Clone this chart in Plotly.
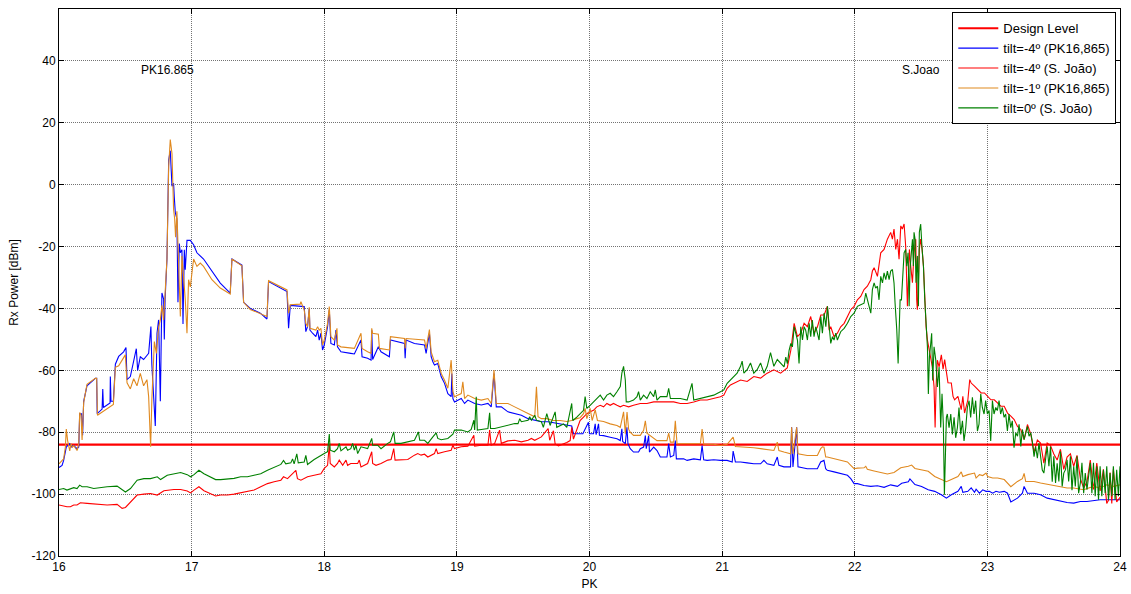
import plotly.graph_objects as go

# ---------------------------------------------------------------------------
# Drive-test measurements: received power (dBm) along the track (PK, km)
# ---------------------------------------------------------------------------
design_level = -84.0
pk_span = [16.0, 24.0]

# tilt=-4º, antenna at PK16,865
tilt_m4_pk = [
    (16.0, -91.4), (16.023, -90.7), (16.035, -89.1), (16.055, -84.8), (16.065, -84.3),
    (16.081, -83.7), (16.091, -84.8), (16.101, -84.3), (16.111, -84.3), (16.123, -84.8),
    (16.136, -85.3), (16.149, -84.8), (16.156, -74.0), (16.17, -74.0), (16.178, -81.0),
    (16.186, -70.0), (16.211, -65.0), (16.274, -62.6), (16.284, -62.6), (16.288, -74.0),
    (16.325, -72.5), (16.33, -66.0), (16.335, -72.0), (16.385, -70.5), (16.387, -62.0),
    (16.392, -70.0), (16.41, -70.0), (16.425, -58.0), (16.45, -55.5), (16.487, -54.0),
    (16.505, -52.6), (16.513, -63.0), (16.538, -62.0), (16.583, -53.0), (16.593, -60.0),
    (16.613, -55.6), (16.638, -56.5), (16.676, -54.5), (16.693, -45.8), (16.70, -58.0),
    (16.726, -78.0), (16.739, -48.0), (16.751, -43.7), (16.764, -70.0), (16.776, -35.0),
    (16.789, -37.0), (16.794, -50.0), (16.80, -37.0), (16.814, -24.0), (16.827, 8.0),
    (16.839, 11.0), (16.852, -0.5), (16.864, 0.5), (16.869, -3.8), (16.877, -9.0),
    (16.889, -11.0), (16.897, -38.0), (16.907, -19.0), (16.915, -22.0), (16.927, -21.0),
    (16.935, -45.0), (16.945, -21.0), (16.952, -27.5), (16.965, -18.0), (16.99, -18.0),
    (17.015, -19.4), (17.04, -22.0), (17.09, -24.0), (17.153, -28.0), (17.216, -31.8),
    (17.291, -35.0), (17.304, -24.0), (17.379, -26.0), (17.392, -38.0), (17.442, -40.0),
    (17.518, -41.5), (17.568, -43.4), (17.58, -31.3), (17.719, -34.5), (17.731, -46.4),
    (17.744, -39.0), (17.819, -39.2), (17.849, -39.4), (17.861, -47.5), (17.874, -45.9),
    (17.887, -40.0), (17.892, -47.0), (17.912, -48.0), (17.937, -49.1), (17.95, -47.0),
    (17.962, -50.2), (17.975, -48.0), (17.987, -53.4), (18.0, -51.8), (18.025, -45.9),
    (18.038, -40.5), (18.05, -51.3), (18.076, -51.8), (18.088, -47.0), (18.1, -52.4),
    (18.113, -53.4), (18.126, -54.0), (18.2, -54.5), (18.227, -54.7), (18.277, -50.2),
    (18.285, -55.6), (18.327, -56.1), (18.353, -56.7), (18.358, -47.0), (18.365, -56.5),
    (18.408, -52.4), (18.428, -54.0), (18.491, -55.6), (18.499, -50.2), (18.605, -51.3),
    (18.61, -56.1), (18.617, -50.2), (18.68, -51.3), (18.756, -51.8), (18.768, -54.5),
    (18.793, -48.0), (18.806, -55.6), (18.819, -57.2), (18.831, -58.3), (18.856, -57.8),
    (18.869, -59.9), (18.882, -62.1), (18.907, -64.2), (18.932, -67.5), (18.957, -68.5),
    (18.962, -61.0), (18.97, -69.1), (18.982, -70.2), (19.033, -69.1), (19.058, -70.7),
    (19.083, -69.6), (19.134, -70.7), (19.184, -71.2), (19.234, -70.7), (19.259, -71.8),
    (19.28, -61.0), (19.297, -71.8), (19.335, -71.8), (19.385, -73.4), (19.436, -73.9),
    (19.486, -74.5), (19.537, -75.6), (19.587, -76.1), (19.637, -76.6), (19.688, -76.6),
    (19.738, -77.0), (19.829, -77.5), (19.866, -78.0), (19.879, -80.5), (19.95, -80.5),
    (19.992, -76.8), (20.0, -80.5), (20.03, -80.5), (20.043, -77.3), (20.05, -80.8),
    (20.068, -77.3), (20.075, -81.0), (20.106, -81.1), (20.156, -81.6), (20.207, -82.1),
    (20.232, -82.7), (20.244, -78.9), (20.25, -83.0), (20.27, -83.7), (20.282, -78.4),
    (20.29, -83.7), (20.307, -85.3), (20.332, -86.4), (20.37, -86.4), (20.383, -85.3),
    (20.408, -84.8), (20.421, -81.1), (20.428, -85.3), (20.446, -81.1), (20.452, -86.4),
    (20.484, -84.8), (20.509, -85.9), (20.534, -88.0), (20.584, -88.0), (20.597, -83.7),
    (20.61, -88.0), (20.635, -87.5), (20.647, -82.7), (20.655, -88.6), (20.71, -88.6),
    (20.736, -89.1), (20.786, -88.6), (20.836, -88.9), (20.849, -84.3), (20.861, -88.9),
    (20.887, -89.1), (20.937, -88.9), (20.987, -89.1), (21.038, -89.1), (21.076, -89.6),
    (21.083, -86.1), (21.1, -89.6), (21.139, -89.6), (21.189, -89.9), (21.239, -90.2),
    (21.29, -90.2), (21.315, -89.1), (21.34, -90.2), (21.39, -90.7), (21.416, -88.0),
    (21.428, -90.7), (21.466, -91.2), (21.516, -91.2), (21.524, -78.4), (21.534, -91.2),
    (21.562, -78.4), (21.572, -91.2), (21.642, -91.8), (21.718, -91.8), (21.743, -89.6),
    (21.768, -89.1), (21.781, -91.8), (21.793, -92.3), (21.844, -92.8), (21.894, -93.4),
    (21.945, -93.9), (21.97, -95.0), (21.995, -96.6), (22.02, -96.6), (22.07, -97.2),
    (22.121, -97.5), (22.171, -97.3), (22.221, -97.8), (22.271, -97.0), (22.322, -97.5),
    (22.354, -96.5), (22.404, -96.0), (22.416, -95.1), (22.454, -96.9), (22.504, -97.5),
    (22.554, -98.6), (22.603, -99.1), (22.653, -100.2), (22.691, -101.3), (22.728, -100.2),
    (22.778, -99.1), (22.803, -97.5), (22.815, -99.4), (22.853, -99.1), (22.878, -98.0),
    (22.903, -99.4), (22.915, -98.4), (22.94, -99.7), (22.965, -98.6), (22.99, -99.1),
    (23.015, -99.1), (23.04, -99.7), (23.065, -99.1), (23.09, -99.4), (23.127, -99.1),
    (23.152, -99.7), (23.177, -102.5), (23.227, -101.3), (23.264, -99.7), (23.277, -97.5),
    (23.302, -99.7), (23.352, -99.7), (23.401, -100.2), (23.451, -101.3), (23.501, -101.8),
    (23.551, -102.4), (23.601, -102.7), (23.651, -102.9), (23.701, -102.4), (23.751, -102.4),
    (23.8, -102.0), (23.85, -101.8), (23.9, -101.8), (23.95, -101.8), (24.0, -101.8),
]

# tilt=-4º, antenna at S. João
tilt_m4_sj = [
    (16.0, -103.5), (16.035, -103.9), (16.06, -104.1), (16.086, -104.1), (16.111, -103.5),
    (16.136, -103.5), (16.161, -102.8), (16.212, -103.0), (16.262, -103.2), (16.312, -103.3),
    (16.363, -103.5), (16.438, -103.3), (16.476, -104.6), (16.501, -104.3), (16.539, -102.5),
    (16.589, -100.3), (16.64, -100.0), (16.69, -99.8), (16.741, -100.3), (16.791, -98.9),
    (16.866, -98.5), (16.917, -98.5), (16.967, -99.0), (16.992, -99.6), (17.018, -98.7),
    (17.055, -97.6), (17.093, -98.9), (17.144, -100.0), (17.181, -100.6), (17.219, -100.3),
    (17.27, -100.3), (17.32, -100.0), (17.37, -99.6), (17.421, -99.3), (17.471, -98.7),
    (17.521, -97.6), (17.572, -96.6), (17.622, -96.0), (17.673, -95.5), (17.693, -94.4),
    (17.723, -95.0), (17.786, -92.3), (17.798, -95.0), (17.824, -95.5), (17.874, -94.4),
    (17.924, -93.9), (17.975, -93.4), (18.0, -91.7), (18.025, -90.7), (18.038, -84.0),
    (18.045, -90.1), (18.076, -91.2), (18.1, -90.1), (18.113, -89.0), (18.139, -90.7),
    (18.164, -89.0), (18.176, -90.7), (18.2, -90.1), (18.252, -90.1), (18.264, -89.0),
    (18.277, -91.2), (18.327, -90.1), (18.358, -86.3), (18.365, -90.1), (18.39, -90.7),
    (18.428, -90.1), (18.479, -89.0), (18.504, -88.8), (18.524, -85.3), (18.534, -89.0),
    (18.579, -89.0), (18.63, -88.8), (18.68, -87.4), (18.705, -86.9), (18.73, -87.4),
    (18.756, -87.1), (18.781, -88.0), (18.831, -86.9), (18.844, -85.3), (18.856, -86.9),
    (18.907, -86.3), (18.957, -85.8), (18.97, -84.2), (18.982, -85.3), (19.033, -84.7),
    (19.083, -84.5), (19.128, -81.0), (19.134, -84.5), (19.184, -84.2), (19.234, -84.2),
    (19.247, -79.3), (19.259, -84.2), (19.285, -83.6), (19.322, -79.3), (19.335, -83.6),
    (19.385, -82.8), (19.436, -82.6), (19.486, -83.1), (19.537, -82.6), (19.562, -82.0),
    (19.587, -82.6), (19.637, -81.5), (19.688, -78.8), (19.7, -82.6), (19.728, -79.5),
    (19.741, -83.8), (19.766, -84.4), (19.804, -83.8), (19.829, -83.3), (19.854, -82.7),
    (19.866, -78.4), (19.879, -82.2), (19.904, -79.5), (19.929, -76.2), (19.955, -75.1),
    (19.98, -74.0), (20.005, -73.4), (20.03, -72.9), (20.055, -71.8), (20.081, -71.3),
    (20.106, -71.8), (20.131, -70.7), (20.156, -71.3), (20.181, -70.7), (20.207, -71.3),
    (20.232, -71.8), (20.257, -71.3), (20.295, -71.8), (20.332, -71.3), (20.383, -70.7),
    (20.433, -70.7), (20.484, -70.2), (20.534, -70.2), (20.584, -70.2), (20.635, -70.2),
    (20.685, -70.7), (20.736, -70.7), (20.786, -70.2), (20.836, -69.6), (20.887, -69.6),
    (20.937, -69.1), (20.987, -68.5), (21.013, -68.0), (21.038, -65.8), (21.063, -64.7),
    (21.088, -64.2), (21.139, -63.1), (21.189, -63.6), (21.239, -62.0), (21.29, -62.5),
    (21.34, -60.9), (21.39, -59.8), (21.441, -60.9), (21.491, -59.2), (21.518, -53.5),
    (21.543, -44.8), (21.568, -49.1), (21.593, -48.0), (21.618, -44.8), (21.643, -45.9),
    (21.668, -42.6), (21.693, -48.0), (21.719, -45.9), (21.744, -42.1), (21.769, -42.1),
    (21.794, -39.3), (21.807, -47.0), (21.819, -45.9), (21.844, -49.1), (21.869, -48.0),
    (21.894, -45.9), (21.92, -44.8), (21.945, -42.6), (21.97, -40.4), (21.995, -39.3),
    (22.02, -37.2), (22.045, -36.1), (22.07, -33.9), (22.095, -32.8), (22.121, -30.7),
    (22.133, -27.9), (22.146, -26.8), (22.171, -29.6), (22.196, -22.0), (22.221, -20.9),
    (22.246, -17.6), (22.271, -15.4), (22.284, -17.6), (22.296, -14.3), (22.309, -20.9),
    (22.322, -17.6), (22.334, -24.1), (22.347, -13.3), (22.359, -14.3), (22.372, -12.7),
    (22.384, -19.8), (22.392, -31.7), (22.397, -39.3), (22.405, -29.6), (22.412, -20.9),
    (22.422, -26.3), (22.435, -31.7), (22.447, -22.0), (22.46, -17.6), (22.467, -37.2),
    (22.472, -40.4), (22.48, -31.7), (22.487, -20.9), (22.497, -17.6), (22.508, -20.9),
    (22.518, -26.3), (22.528, -37.2), (22.538, -45.9), (22.548, -50.2), (22.56, -53.5),
    (22.573, -56.7), (22.585, -58.9), (22.598, -65.4), (22.606, -78.5), (22.613, -65.4),
    (22.623, -56.7), (22.636, -58.9), (22.648, -56.7), (22.653, -55.0), (22.666, -59.6),
    (22.678, -56.5), (22.691, -60.5), (22.703, -64.0), (22.728, -64.1), (22.741, -68.4),
    (22.753, -69.5), (22.778, -68.4), (22.803, -72.7), (22.815, -68.4), (22.828, -73.8),
    (22.853, -69.5), (22.867, -63.0), (22.878, -64.1), (22.903, -65.1), (22.928, -66.2),
    (22.953, -67.3), (22.978, -67.3), (23.002, -68.4), (23.027, -69.5), (23.052, -69.5),
    (23.077, -70.5), (23.102, -71.6), (23.127, -71.6), (23.152, -73.8), (23.177, -74.8),
    (23.202, -75.9), (23.227, -78.1), (23.252, -79.1), (23.277, -82.4), (23.302, -77.5),
    (23.327, -80.5), (23.352, -86.5), (23.377, -82.5), (23.401, -83.5), (23.426, -90.0),
    (23.451, -83.5), (23.476, -84.3), (23.501, -87.0), (23.526, -89.0), (23.551, -85.5),
    (23.576, -92.0), (23.601, -88.0), (23.626, -87.0), (23.651, -91.0), (23.676, -87.5),
    (23.701, -95.0), (23.726, -98.0), (23.751, -96.0), (23.776, -89.0), (23.8, -98.5),
    (23.825, -90.0), (23.85, -99.0), (23.875, -92.0), (23.9, -103.0), (23.913, -102.0),
    (23.925, -93.0), (23.938, -103.0), (23.95, -92.0), (23.975, -102.5), (24.0, -101.0),
]

# tilt=-1º, antenna at PK16,865
tilt_m1_pk = [
    (16.0, -90.2), (16.023, -89.1), (16.035, -88.6), (16.048, -84.8), (16.055, -79.0),
    (16.065, -82.7), (16.081, -86.0), (16.091, -83.7), (16.101, -84.8), (16.111, -84.3),
    (16.123, -85.3), (16.136, -85.9), (16.149, -83.7), (16.156, -73.6), (16.166, -74.5),
    (16.174, -82.5), (16.186, -70.4), (16.211, -64.5), (16.274, -62.6), (16.284, -62.6),
    (16.29, -74.5), (16.41, -71.0), (16.425, -59.0), (16.45, -58.5), (16.5, -55.0),
    (16.513, -64.0), (16.538, -66.0), (16.563, -62.7), (16.588, -65.0), (16.613, -61.0),
    (16.638, -65.0), (16.663, -63.0), (16.676, -68.5), (16.691, -84.7), (16.70, -69.5),
    (16.719, -50.7), (16.734, -54.5), (16.751, -46.0), (16.764, -43.7), (16.776, -39.0),
    (16.789, -43.7), (16.80, -36.0), (16.814, -24.0), (16.827, 6.0), (16.839, 14.6),
    (16.852, 10.0), (16.864, -8.0), (16.872, -11.0), (16.879, -17.0), (16.889, -8.6),
    (16.902, -24.0), (16.915, -42.6), (16.927, -23.0), (16.94, -30.0), (16.952, -37.0),
    (16.965, -48.0), (16.977, -30.7), (16.99, -33.0), (17.015, -24.0), (17.04, -26.4),
    (17.065, -25.3), (17.09, -26.4), (17.153, -30.7), (17.216, -33.4), (17.291, -35.3),
    (17.304, -24.0), (17.379, -26.2), (17.392, -38.0), (17.442, -40.3), (17.568, -42.6),
    (17.58, -31.0), (17.719, -34.0), (17.731, -41.5), (17.744, -38.8), (17.819, -38.6),
    (17.824, -37.8), (17.849, -40.5), (17.861, -44.8), (17.874, -45.9), (17.887, -39.6),
    (17.892, -46.4), (17.937, -47.0), (17.95, -45.9), (17.962, -47.0), (17.975, -46.4),
    (17.987, -51.8), (18.0, -50.2), (18.025, -44.8), (18.038, -39.4), (18.05, -49.1),
    (18.076, -50.2), (18.096, -46.4), (18.1, -51.8), (18.126, -52.4), (18.2, -52.6),
    (18.227, -52.9), (18.277, -48.0), (18.285, -52.9), (18.327, -54.0), (18.353, -54.5),
    (18.358, -46.4), (18.365, -48.0), (18.408, -48.3), (18.416, -52.9), (18.491, -53.4),
    (18.499, -49.1), (18.605, -49.7), (18.61, -52.9), (18.617, -49.7), (18.756, -50.2),
    (18.768, -52.9), (18.793, -46.8), (18.806, -54.0), (18.819, -56.1), (18.831, -57.2),
    (18.856, -56.7), (18.869, -58.8), (18.882, -61.0), (18.907, -63.2), (18.932, -65.8),
    (18.957, -56.7), (18.97, -66.9), (18.982, -68.5), (19.033, -67.5), (19.045, -63.7),
    (19.058, -69.1), (19.083, -68.0), (19.134, -69.1), (19.184, -69.6), (19.234, -69.1),
    (19.259, -70.7), (19.28, -59.9), (19.297, -70.7), (19.335, -70.7), (19.385, -70.7),
    (19.436, -71.8), (19.486, -72.9), (19.537, -73.9), (19.587, -75.0), (19.6, -65.3),
    (19.612, -75.0), (19.637, -75.6), (19.678, -75.6), (19.728, -76.2), (19.778, -76.2),
    (19.829, -76.5), (19.866, -76.2), (19.904, -75.6), (19.929, -75.3), (19.955, -74.0),
    (19.967, -72.3), (19.98, -75.6), (20.005, -72.3), (20.02, -76.2), (20.043, -72.8),
    (20.06, -76.2), (20.106, -76.5), (20.156, -77.3), (20.207, -77.8), (20.232, -78.4),
    (20.244, -76.3), (20.257, -73.4), (20.27, -80.5), (20.283, -73.5), (20.295, -79.0),
    (20.307, -80.0), (20.332, -81.0), (20.383, -81.0), (20.408, -79.4), (20.421, -76.3),
    (20.433, -80.3), (20.458, -81.0), (20.509, -82.7), (20.534, -82.7), (20.584, -82.7),
    (20.597, -80.3), (20.61, -83.2), (20.635, -83.2), (20.647, -76.3), (20.66, -83.7),
    (20.71, -83.7), (20.786, -83.7), (20.836, -83.7), (20.849, -79.0), (20.861, -83.9),
    (20.937, -83.9), (20.987, -84.3), (21.038, -83.9), (21.083, -81.6), (21.1, -84.6),
    (21.189, -84.8), (21.239, -85.0), (21.29, -85.3), (21.34, -85.6), (21.39, -85.9),
    (21.416, -83.2), (21.428, -85.9), (21.466, -86.4), (21.516, -87.0), (21.524, -78.4),
    (21.534, -87.0), (21.562, -78.4), (21.572, -87.0), (21.642, -87.5), (21.718, -87.5),
    (21.743, -85.3), (21.756, -84.7), (21.768, -84.8), (21.781, -88.0), (21.793, -88.0),
    (21.844, -88.6), (21.894, -89.1), (21.945, -89.6), (21.97, -90.7), (21.995, -91.8),
    (22.02, -91.6), (22.07, -91.5), (22.083, -91.0), (22.095, -92.0), (22.146, -92.5),
    (22.196, -93.0), (22.246, -93.5), (22.296, -93.0), (22.347, -91.5), (22.404, -91.0),
    (22.429, -90.6), (22.454, -91.7), (22.504, -92.1), (22.554, -92.6), (22.603, -94.3),
    (22.653, -95.3), (22.691, -96.0), (22.728, -95.3), (22.778, -94.3), (22.803, -92.8),
    (22.815, -94.3), (22.853, -93.7), (22.903, -93.2), (22.915, -94.8), (22.94, -93.7),
    (22.965, -94.0), (22.99, -93.2), (23.002, -94.3), (23.04, -94.8), (23.077, -94.8),
    (23.127, -95.3), (23.177, -97.6), (23.227, -95.9), (23.264, -95.0), (23.277, -93.3),
    (23.289, -95.9), (23.352, -95.9), (23.401, -96.4), (23.476, -97.0), (23.551, -97.5),
    (23.601, -98.0), (23.651, -98.0), (23.726, -98.6), (23.8, -97.5), (23.85, -98.0),
    (23.9, -97.0), (23.95, -97.5), (24.0, -97.0),
]

# tilt=0º, antenna at S. João
tilt_0_sj = [
    (16.0, -98.5), (16.035, -98.2), (16.06, -98.7), (16.086, -98.2), (16.111, -97.9),
    (16.136, -98.2), (16.156, -97.1), (16.174, -97.6), (16.212, -97.6), (16.262, -98.2),
    (16.312, -97.9), (16.363, -97.6), (16.438, -97.4), (16.463, -98.2), (16.501, -99.3),
    (16.539, -98.2), (16.589, -95.5), (16.64, -95.0), (16.69, -95.0), (16.741, -94.4),
    (16.766, -95.3), (16.816, -93.9), (16.866, -93.4), (16.917, -93.0), (16.967, -93.7),
    (16.992, -94.4), (17.018, -93.7), (17.055, -92.3), (17.093, -93.4), (17.144, -94.4),
    (17.181, -95.3), (17.219, -95.3), (17.27, -95.1), (17.32, -94.9), (17.37, -94.4),
    (17.421, -94.4), (17.471, -93.9), (17.521, -93.4), (17.572, -92.3), (17.622, -91.4),
    (17.673, -90.4), (17.693, -89.1), (17.71, -90.2), (17.748, -89.9), (17.761, -88.6),
    (17.773, -90.2), (17.793, -87.0), (17.804, -89.9), (17.849, -89.6), (17.861, -87.5),
    (17.874, -90.4), (17.924, -88.8), (17.975, -87.7), (18.0, -86.9), (18.025, -86.3),
    (18.038, -80.6), (18.045, -85.8), (18.076, -86.3), (18.1, -85.3), (18.113, -83.6),
    (18.126, -86.0), (18.151, -85.3), (18.164, -84.7), (18.176, -85.8), (18.2, -85.3),
    (18.214, -83.6), (18.227, -85.8), (18.239, -84.2), (18.252, -86.9), (18.277, -84.7),
    (18.327, -85.3), (18.358, -82.0), (18.365, -84.2), (18.403, -84.2), (18.428, -85.3),
    (18.479, -83.6), (18.499, -83.1), (18.524, -79.9), (18.534, -83.6), (18.579, -83.6),
    (18.63, -83.1), (18.68, -82.6), (18.71, -79.9), (18.72, -82.6), (18.756, -82.6),
    (18.781, -83.6), (18.819, -81.5), (18.844, -80.2), (18.856, -82.0), (18.882, -82.4),
    (18.932, -82.0), (18.97, -80.6), (18.982, -79.3), (19.033, -79.3), (19.083, -79.9),
    (19.108, -79.1), (19.128, -76.1), (19.134, -79.3), (19.146, -68.5), (19.154, -79.3),
    (19.184, -79.1), (19.234, -78.8), (19.247, -73.7), (19.254, -78.8), (19.285, -78.8),
    (19.335, -78.3), (19.385, -77.7), (19.436, -77.2), (19.461, -77.2), (19.474, -75.6),
    (19.486, -76.6), (19.537, -76.1), (19.549, -75.0), (19.562, -76.1), (19.587, -74.5),
    (19.6, -76.1), (19.637, -76.6), (19.652, -78.4), (19.678, -74.0), (19.703, -77.8),
    (19.741, -73.4), (19.753, -78.4), (19.804, -77.3), (19.829, -78.4), (19.866, -70.7),
    (19.874, -76.2), (19.904, -75.1), (19.955, -72.9), (19.967, -68.5), (19.98, -72.3),
    (20.005, -71.3), (20.03, -70.2), (20.055, -69.1), (20.081, -68.0), (20.106, -69.6),
    (20.131, -68.0), (20.156, -67.4), (20.181, -68.5), (20.207, -66.9), (20.232, -65.2),
    (20.244, -60.9), (20.257, -58.7), (20.27, -63.1), (20.277, -70.2), (20.295, -70.2),
    (20.332, -69.6), (20.358, -68.5), (20.37, -66.9), (20.383, -69.6), (20.408, -68.0),
    (20.433, -69.1), (20.458, -66.9), (20.484, -68.5), (20.496, -66.3), (20.509, -69.6),
    (20.534, -68.5), (20.584, -68.5), (20.597, -65.8), (20.61, -69.1), (20.635, -69.1),
    (20.685, -69.1), (20.736, -69.6), (20.773, -64.2), (20.786, -69.6), (20.836, -69.1),
    (20.887, -68.5), (20.937, -68.0), (20.987, -66.9), (21.013, -66.3), (21.038, -64.2),
    (21.063, -63.1), (21.088, -62.0), (21.113, -60.9), (21.139, -58.7), (21.151, -57.0),
    (21.164, -60.9), (21.189, -59.8), (21.214, -57.6), (21.239, -60.9), (21.264, -59.8),
    (21.29, -57.6), (21.315, -60.9), (21.34, -58.7), (21.365, -54.3), (21.39, -58.7),
    (21.416, -56.5), (21.441, -57.6), (21.467, -58.9), (21.48, -55.7), (21.492, -57.8),
    (21.505, -53.5), (21.518, -51.3), (21.53, -52.4), (21.543, -45.9), (21.555, -48.0),
    (21.568, -50.2), (21.58, -57.8), (21.593, -45.9), (21.606, -50.2), (21.618, -45.9),
    (21.63, -47.0), (21.643, -50.2), (21.656, -44.8), (21.668, -49.1), (21.68, -43.7),
    (21.693, -49.1), (21.706, -45.9), (21.719, -48.0), (21.731, -50.2), (21.744, -42.6),
    (21.756, -48.0), (21.769, -41.5), (21.782, -45.9), (21.794, -39.3), (21.807, -47.0),
    (21.819, -51.3), (21.832, -49.1), (21.844, -50.2), (21.857, -48.0), (21.869, -50.2),
    (21.894, -47.5), (21.92, -46.4), (21.945, -44.8), (21.97, -42.6), (21.995, -41.5),
    (22.02, -39.3), (22.045, -38.8), (22.07, -38.3), (22.083, -35.0), (22.095, -37.2),
    (22.108, -39.3), (22.121, -41.5), (22.133, -33.9), (22.146, -31.7), (22.158, -33.4),
    (22.171, -32.8), (22.183, -37.2), (22.196, -29.6), (22.209, -31.7), (22.221, -28.5),
    (22.234, -30.7), (22.246, -27.9), (22.259, -30.7), (22.271, -27.9), (22.284, -27.4),
    (22.296, -31.7), (22.304, -38.3), (22.317, -47.0), (22.327, -57.8), (22.334, -48.0),
    (22.342, -37.2), (22.352, -37.2), (22.359, -31.7), (22.372, -22.0), (22.384, -20.9),
    (22.392, -26.3), (22.402, -22.0), (22.41, -39.3), (22.417, -27.4), (22.427, -19.8),
    (22.435, -17.6), (22.442, -26.3), (22.447, -15.4), (22.455, -17.6), (22.462, -31.7),
    (22.472, -23.0), (22.48, -39.3), (22.487, -15.4), (22.497, -12.7), (22.508, -20.9),
    (22.518, -26.3), (22.528, -37.2), (22.538, -45.9), (22.548, -52.4), (22.555, -67.6),
    (22.563, -55.7), (22.573, -51.3), (22.58, -48.0), (22.588, -63.3), (22.598, -52.4),
    (22.611, -56.7), (22.623, -65.4), (22.636, -58.9), (22.648, -78.5), (22.658, -67.6),
    (22.668, -77.4), (22.676, -100.2), (22.683, -86.1), (22.691, -75.2), (22.698, -74.1),
    (22.711, -78.5), (22.724, -74.1), (22.736, -80.7), (22.749, -75.2), (22.761, -81.8),
    (22.774, -78.5), (22.786, -72.0), (22.799, -80.7), (22.812, -76.3), (22.824, -82.8),
    (22.837, -78.5), (22.849, -72.0), (22.862, -69.8), (22.874, -75.2), (22.887, -68.7),
    (22.899, -74.1), (22.912, -69.8), (22.925, -79.6), (22.937, -77.4), (22.95, -67.6),
    (22.962, -72.0), (22.975, -74.1), (22.987, -69.8), (23.0, -74.1), (23.013, -73.0),
    (23.025, -82.8), (23.038, -69.8), (23.05, -74.1), (23.063, -72.0), (23.075, -73.0),
    (23.088, -69.8), (23.1, -74.1), (23.113, -72.0), (23.126, -75.2), (23.138, -74.1),
    (23.151, -79.6), (23.163, -74.1), (23.176, -78.5), (23.188, -76.3), (23.201, -85.0),
    (23.214, -80.2), (23.227, -81.3), (23.239, -77.4), (23.252, -84.6), (23.264, -79.1),
    (23.277, -82.4), (23.289, -80.2), (23.302, -78.1), (23.314, -81.3), (23.327, -80.2),
    (23.339, -83.0), (23.352, -87.9), (23.364, -84.6), (23.377, -88.4), (23.389, -83.5),
    (23.401, -87.9), (23.414, -92.2), (23.426, -93.2), (23.439, -88.9), (23.451, -84.6),
    (23.464, -91.0), (23.476, -84.6), (23.489, -96.0), (23.501, -87.8), (23.514, -96.4),
    (23.526, -90.0), (23.539, -95.9), (23.551, -86.2), (23.564, -97.5), (23.576, -93.2),
    (23.589, -92.1), (23.601, -88.9), (23.613, -95.9), (23.626, -87.8), (23.638, -98.7),
    (23.651, -91.0), (23.663, -97.5), (23.676, -87.8), (23.688, -99.7), (23.701, -96.4),
    (23.713, -89.9), (23.726, -99.7), (23.738, -93.2), (23.751, -98.6), (23.763, -94.3),
    (23.776, -89.9), (23.788, -99.7), (23.8, -89.9), (23.813, -100.7), (23.825, -91.0),
    (23.838, -101.8), (23.85, -91.0), (23.863, -100.7), (23.875, -92.1), (23.888, -99.7),
    (23.9, -91.0), (23.913, -101.8), (23.925, -93.2), (23.938, -100.7), (23.95, -91.0),
    (23.963, -101.8), (23.975, -92.1), (23.988, -100.7), (24.0, -91.0),
]

# site labels placed on the chart
site_labels = [("PK16.865", 16.82, 37.2), ("S.Joao", 22.5, 37.2)]

x_ticks = [16, 17, 18, 19, 20, 21, 22, 23, 24]
y_ticks = [-120, -100, -80, -60, -40, -20, 0, 20, 40]

series = [
    ("tilt=-4º (PK16,865)", tilt_m4_pk, "#0000ff"),
    ("tilt=-4º (S. João)", tilt_m4_sj, "#ff0000"),
    ("tilt=-1º (PK16,865)", tilt_m1_pk, "#e0891f"),
    ("tilt=0º (S. João)", tilt_0_sj, "#008000"),
]

FONT = "Liberation Sans, Arial, sans-serif"

fig = go.Figure()

fig.add_trace(go.Scatter(
    x=pk_span, y=[design_level, design_level], mode="lines",
    name="Design Level", line=dict(color="#ff0000", width=2.2),
))

for name, pts, color in series:
    xs, ys = zip(*pts)
    fig.add_trace(go.Scatter(
        x=list(xs), y=list(ys), mode="lines", name=name,
        line=dict(color=color, width=1.1),
    ))

for text, ax_x, ax_y in site_labels:
    fig.add_annotation(
        x=ax_x, y=ax_y, xref="x", yref="y", text=text, showarrow=False,
        font=dict(family=FONT, size=12, color="#000000"),
    )

axis_common = dict(
    showline=True, linecolor="#000000", linewidth=1, mirror="ticks",
    ticks="inside", ticklen=5, tickcolor="#000000",
    showgrid=True, gridcolor="rgba(0,0,0,0.55)", griddash="1px,1px", gridwidth=1,
    zeroline=False, automargin=False,
    tickfont=dict(family=FONT, size=12, color="#000000"),
)

fig.update_xaxes(
    range=[16, 24], tickvals=x_ticks, ticktext=[str(v) for v in x_ticks],
    title=dict(text="PK", font=dict(family=FONT, size=12, color="#000000"), standoff=6),
    **axis_common,
)
fig.update_yaxes(
    range=[-120, 56.8], tickvals=y_ticks, ticktext=[str(v) for v in y_ticks],
    title=dict(text="Rx Power [dBm]", font=dict(family=FONT, size=12, color="#000000"), standoff=10),
    **axis_common,
)

fig.update_layout(
    width=1131, height=594,
    margin=dict(l=59, r=11, t=9, b=38),
    paper_bgcolor="#ffffff", plot_bgcolor="#ffffff",
    showlegend=True,
    legend=dict(
        x=0.9965, y=0.994, xanchor="right", yanchor="top",
        bgcolor="#ffffff", bordercolor="#000000", borderwidth=1,
        font=dict(family=FONT, size=13, color="#000000"),
        tracegroupgap=0, itemwidth=40,
    ),
)

fig.write_html("out.html")
